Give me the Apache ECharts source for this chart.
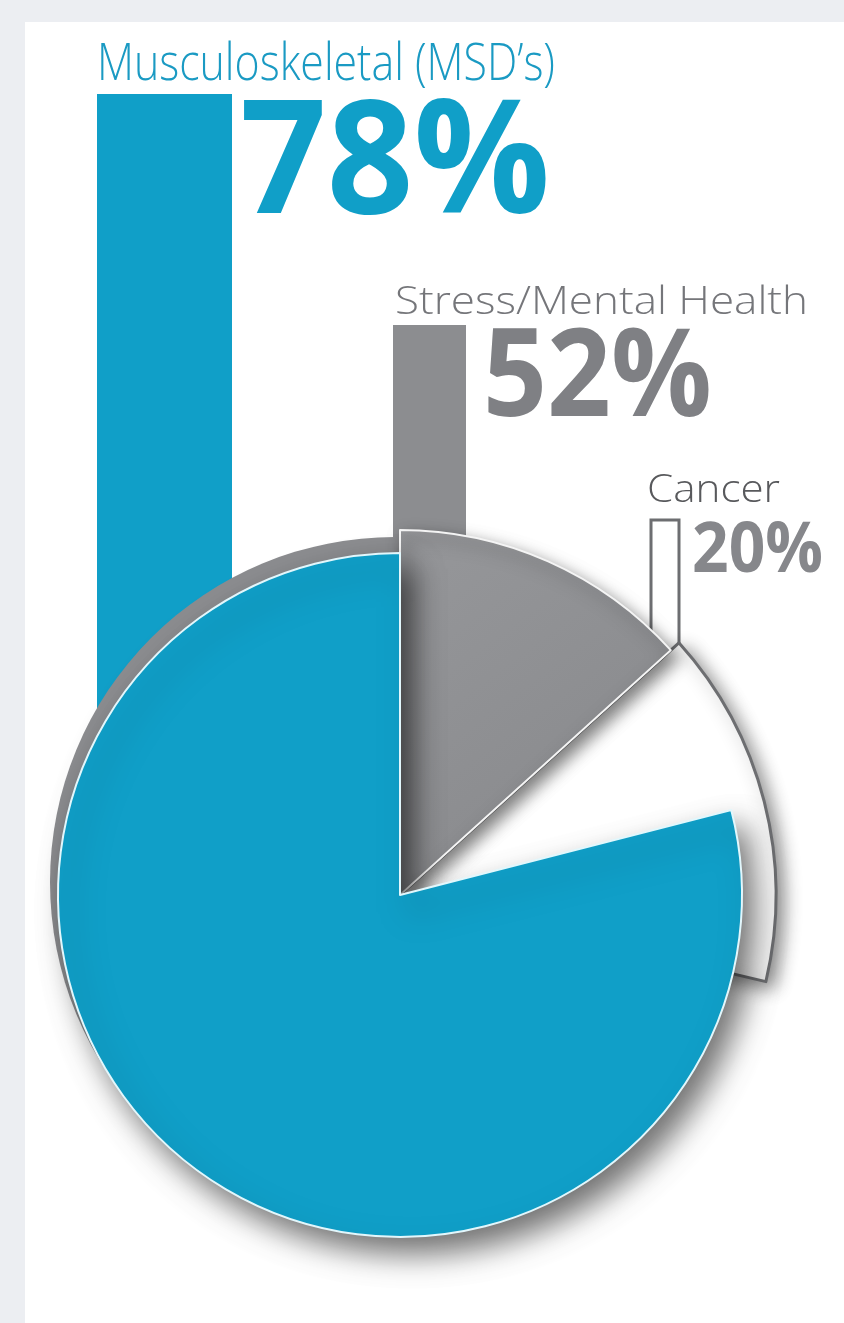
<!DOCTYPE html>
<html>
<head>
<meta charset="utf-8">
<script src="https://cdn.jsdelivr.net/npm/echarts@6/dist/echarts.min.js"></script>
<style>
  html, body { margin: 0; padding: 0; background: #eceef2; }
  #chart { width: 844px; height: 1323px; }
</style>
</head>
<body>
<div id="chart"></div>
<script>
// ---- data ----
const categories = ['Musculoskeletal (MSD’s)', 'Stress/Mental Health', 'Cancer'];
const values = [78, 52, 20];
const valueLabels = ['78%', '52%', '20%'];
// share of the circle swept by each sector, as drawn
const pieMSD = 79;
const pieStress = 13.3;
const pieCancer = 15.4;

// ---- styling / layout ----
const BLUE = '#109fc8';
const GRAY = '#8c8d90';
const DARK = '#6d6e71';
const CENTER = [400, 895];

const barBoxes = [
  { left: 97, width: 135, top: 94, bottom: 780 },
  { left: 393, width: 73, top: 325, bottom: 570 },
  { left: 649.5, width: 31, top: 518.5, bottom: 680 }
];
const barStyles = [
  { color: BLUE },
  { color: GRAY },
  { color: '#ffffff', borderColor: DARK, borderWidth: 3 }
];

const H = 1323;
const grids = [], xAxes = [], yAxes = [], barSeries = [];
barBoxes.forEach((b, i) => {
  grids.push({ left: b.left, width: b.width, top: b.top, height: b.bottom - b.top, containLabel: false });
  xAxes.push({ type: 'category', gridIndex: i, data: [categories[i]], show: false });
  yAxes.push({ type: 'value', gridIndex: i, min: 0, max: values[i], show: false });
  barSeries.push({
    type: 'bar', xAxisIndex: i, yAxisIndex: i, barWidth: '100%', silent: true,
    data: [values[i]], itemStyle: barStyles[i], z: 1
  });
});

const clear = { color: 'rgba(0,0,0,0)', borderWidth: 0, shadowBlur: 0, shadowColor: 'rgba(0,0,0,0)' };
const pieCommon = {
  type: 'pie', center: CENTER, startAngle: 90, clockwise: true, silent: true,
  label: { show: false }, labelLine: { show: false }, avoidLabelOverlap: false,
  emphasis: { disabled: true }, minAngle: 0, z: 2
};

const pieSeries = [
  // gray base disk (offset up-left)
  Object.assign({}, pieCommon, {
    center: [395, 882], radius: 345,
    data: [{ value: 100, name: 'base', itemStyle: { color: GRAY } }]
  }),
  // cancer sector
  Object.assign({}, pieCommon, {
    radius: 376,
    data: [
      { value: pieStress, name: 'pad', itemStyle: clear },
      { value: pieCancer, name: categories[2], itemStyle: {
        color: '#ffffff', borderColor: DARK, borderWidth: 3,
        shadowBlur: 18, shadowColor: 'rgba(0,0,0,0.45)', shadowOffsetX: 6, shadowOffsetY: 6 } },
      { value: 100 - pieStress - pieCancer, name: 'rest', itemStyle: clear }
    ]
  }),
  // stress sector
  Object.assign({}, pieCommon, {
    radius: 365,
    data: [
      { value: pieStress, name: categories[1], itemStyle: {
        color: new echarts.graphic.LinearGradient(0, 0, 1, 1, [
          { offset: 0, color: '#96979a' }, { offset: 1, color: '#86878a' }]),
        borderColor: '#f4f4f4', borderWidth: 2,
        shadowBlur: 16, shadowColor: 'rgba(0,0,0,0.5)', shadowOffsetX: 5, shadowOffsetY: 7 } },
      { value: 100 - pieStress, name: 'rest', itemStyle: clear }
    ]
  }),
  // MSD sector
  Object.assign({}, pieCommon, {
    radius: 342,
    data: [
      { value: 100 - pieMSD, name: 'pad', itemStyle: clear },
      { value: pieMSD, name: categories[0], itemStyle: {
        color: BLUE, borderColor: '#e2f7fc', borderWidth: 2,
        shadowBlur: 30, shadowColor: 'rgba(0,0,0,0.55)', shadowOffsetX: 12, shadowOffsetY: 16 } }
    ]
  })
];

// ---- text ----
const measureCtx = document.createElement('canvas').getContext('2d');
function fitText(text, font, targetW) {
  measureCtx.font = font;
  return targetW / measureCtx.measureText(text).width;
}
const textSpecs = [
  { text: categories[0], weight: 300, size: 52, left: 97, right: 555, capTop: 42, base: 82, fill: '#1a9ac3' },
  { text: valueLabels[0], weight: 700, size: 158, left: 240, right: 550, capTop: 97, base: 216, fill: BLUE },
  { text: categories[1], weight: 300, size: 38, left: 395, right: 808, capTop: 287, base: 315, fill: '#75767a' },
  { text: valueLabels[1], weight: 700, size: 122, left: 483, right: 712, capTop: 330, base: 416, fill: '#7f8084' },
  { text: categories[2], weight: 300, size: 38, left: 647, right: 780, capTop: 475, base: 503, fill: '#58595c' },
  { text: valueLabels[2], weight: 700, size: 70, left: 692, right: 823, capTop: 522, base: 572, fill: '#86878b' }
];
const texts = textSpecs.map(t => {
  const font = `${t.weight} ${t.size}px "Open Sans"`;
  const sx = fitText(t.text, font, t.right - t.left);
  const capCenter = (t.capTop + t.base) / 2;
  return {
    type: 'text', x: t.left, y: capCenter + 0.07 * t.size, scaleX: sx, z: 100,
    style: { text: t.text, font: font, fill: t.fill,
      align: 'left', verticalAlign: 'middle', textAlign: 'left', textVerticalAlign: 'middle' }
  };
});

const chart = echarts.init(document.getElementById('chart'), null, { renderer: 'canvas' });
chart.setOption({
  animation: false,
  backgroundColor: '#eceef2',
  grid: grids, xAxis: xAxes, yAxis: yAxes,
  graphic: {
    elements: [
      { type: 'rect', shape: { x: 25, y: 22, width: 819, height: H - 22 }, style: { fill: '#ffffff' }, z: -10, silent: true }
    ].concat(texts)
  },
  series: barSeries.concat(pieSeries)
});
</script>
</body>
</html>
